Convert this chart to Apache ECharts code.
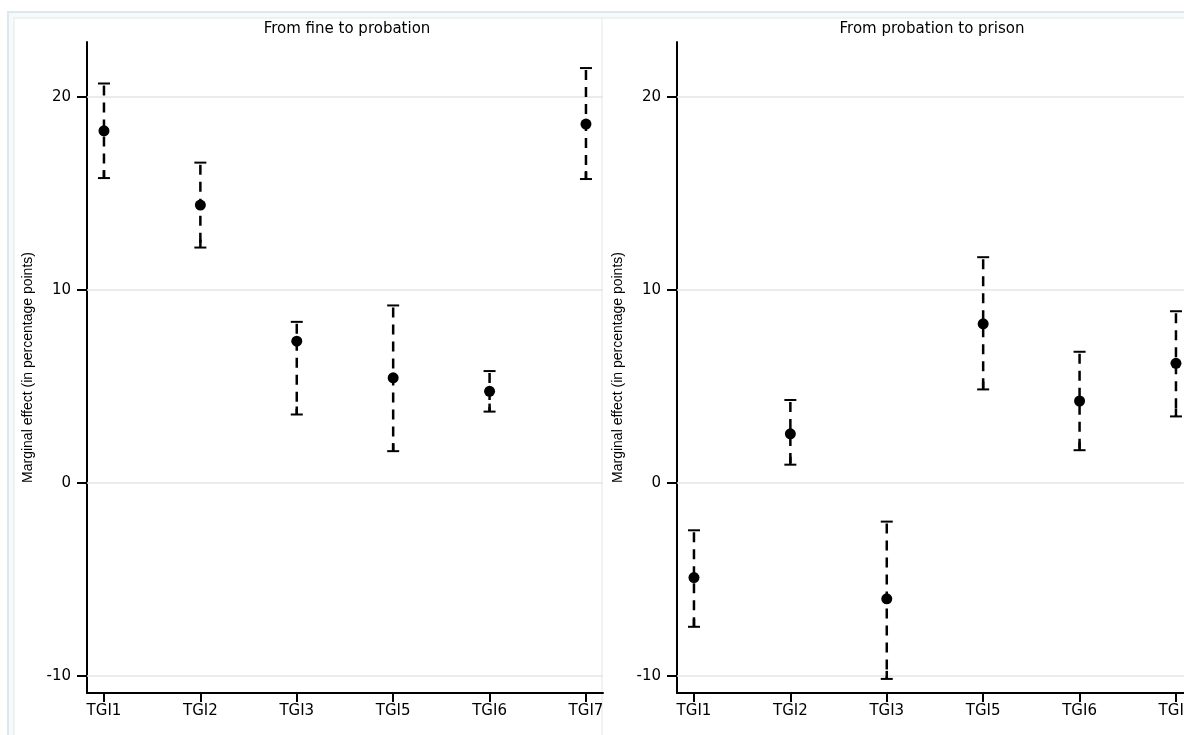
<!DOCTYPE html>
<html><head><meta charset="utf-8">
<script src="https://cdn.jsdelivr.net/npm/echarts@6/dist/echarts.min.js"></script>
<style>html,body{margin:0;padding:0;background:#fff}#c{width:1184px;height:735px}</style>
</head><body><div id="c"></div>
<script>
// ---- data ----
const categories = ['TGI1', 'TGI2', 'TGI3', 'TGI5', 'TGI6', 'TGI7'];
const catPos = [1, 2, 3, 4, 5, 6];
const panelTitles = ['From fine to probation', 'From probation to prison'];
const yAxisName = 'Marginal effect (in percentage points)';
const yTicks = [-10, 0, 10, 20];

// From fine to probation
const fineEst  = [18.25, 14.4, 7.35, 5.45, 4.75, 18.6];
const fineLow  = [15.8, 12.2, 3.55, 1.65, 3.7, 15.75];
const fineHigh = [20.7, 16.6, 8.35, 9.2, 5.8, 21.5];

// From probation to prison
const prisonEst  = [-4.9, 2.55, -6.0, 8.25, 4.25, 6.2];
const prisonLow  = [-7.45, 0.95, -10.15, 4.85, 1.7, 3.45];
const prisonHigh = [-2.45, 4.3, -2.0, 11.7, 6.8, 8.9];

// ---- chart ----
const tickFont = 'DejaVu Sans';
const pxPerCat = 96.4;
function xAxisCfg(gi, width) {
  return {
    type: 'value', gridIndex: gi, min: 0.824, max: 0.824 + width / pxPerCat,
    axisLine: { show: true, onZero: false, lineStyle: { color: '#000', width: 2 } },
    axisTick: { show: true, customValues: catPos, length: 9, lineStyle: { color: '#000', width: 2 } },
    axisLabel: { customValues: catPos, formatter: v => categories[Math.round(v) - 1], color: '#000',
                 fontFamily: tickFont, fontSize: 15, margin: 11, hideOverlap: false },
    splitLine: { show: false }
  };
}
function yAxisCfg(gi) {
  return {
    type: 'value', gridIndex: gi, min: -10.88, max: 22.85,
    axisLine: { show: true, onZero: false, lineStyle: { color: '#000', width: 2 } },
    axisTick: { show: true, customValues: yTicks, length: 10, lineStyle: { color: '#000', width: 2 } },
    axisLabel: { customValues: yTicks, color: '#000', fontFamily: tickFont, fontSize: 15, margin: 16 },
    splitLine: { show: false },
    name: yAxisName, nameLocation: 'middle', nameGap: 52,
    nameTextStyle: { color: '#000', fontFamily: 'Liberation Sans', fontSize: 14 }
  };
}
function errSeries(gi, low, high) {
  return {
    type: 'custom', xAxisIndex: gi, yAxisIndex: gi, z: 3, clip: false,
    data: catPos.map((p, i) => [p, low[i], high[i]]),
    encode: { x: 0, y: [1, 2] },
    renderItem: (params, api) => {
      const x = api.value(0);
      const pLo = api.coord([x, api.value(1)]);
      const pHi = api.coord([x, api.value(2)]);
      const cw = 6;
      return { type: 'group', children: [
        { type: 'line', shape: { x1: pHi[0], y1: pHi[1] + 2, x2: pLo[0], y2: pLo[1] },
          style: { stroke: '#000', lineWidth: 2.5, lineDash: [10, 7] } },
        { type: 'line', shape: { x1: pHi[0] - cw, y1: pHi[1], x2: pHi[0] + cw, y2: pHi[1] },
          style: { stroke: '#000', lineWidth: 2 } },
        { type: 'line', shape: { x1: pLo[0] - cw, y1: pLo[1], x2: pLo[0] + cw, y2: pLo[1] },
          style: { stroke: '#000', lineWidth: 2 } },
        { type: 'line', shape: { x1: pLo[0], y1: pLo[1] - 8, x2: pLo[0], y2: pLo[1] },
          style: { stroke: '#000', lineWidth: 2.5 } }
      ] };
    }
  };
}
function pointSeries(gi, est) {
  return {
    type: 'scatter', xAxisIndex: gi, yAxisIndex: gi, z: 4,
    symbol: 'circle', symbolSize: 11, itemStyle: { color: '#000', opacity: 1 },
    data: catPos.map((p, i) => [p, est[i]]),
    markLine: {
      silent: true, symbol: 'none', label: { show: false }, z: 1,
      lineStyle: { color: '#e4e4e4', width: 1.5, type: 'solid', opacity: 1 },
      data: yTicks.map(t => ({ yAxis: t }))
    }
  };
}

const chart = echarts.init(document.getElementById('c'), null, { renderer: 'canvas' });
chart.setOption({
  animation: false,
  backgroundColor: '#ffffff',
  grid: [
    { left: 87, top: 42, width: 516, height: 651, outerBoundsMode: 'none', containLabel: false },
    { left: 677, top: 42, width: 507, height: 651, outerBoundsMode: 'none', containLabel: false }
  ],
  xAxis: [xAxisCfg(0, 516), xAxisCfg(1, 507)],
  yAxis: [yAxisCfg(0), yAxisCfg(1)],
  graphic: [
    { type: 'rect', z: -10, silent: true, shape: { x: 8, y: 12, width: 1200, height: 760 },
      style: { fill: '#f7fafb', stroke: '#dce8ed', lineWidth: 2 } },
    { type: 'rect', z: -9, silent: true, shape: { x: 14, y: 18, width: 589, height: 760 },
      style: { fill: '#ffffff', stroke: '#ebeeef', lineWidth: 1.5 } },
    { type: 'rect', z: -9, silent: true, shape: { x: 602, y: 18, width: 600, height: 760 },
      style: { fill: '#ffffff', stroke: '#ebeeef', lineWidth: 1.5 } },
    { type: 'text', z: 10, x: 347, y: 29, style: { text: panelTitles[0], align: 'center', verticalAlign: 'middle',
      font: '15px "DejaVu Sans"', fill: '#000' } },
    { type: 'text', z: 10, x: 932, y: 29, style: { text: panelTitles[1], align: 'center', verticalAlign: 'middle',
      font: '15px "DejaVu Sans"', fill: '#000' } }
  ],
  series: [
    errSeries(0, fineLow, fineHigh), pointSeries(0, fineEst),
    errSeries(1, prisonLow, prisonHigh), pointSeries(1, prisonEst)
  ]
});
</script>
</body></html>
